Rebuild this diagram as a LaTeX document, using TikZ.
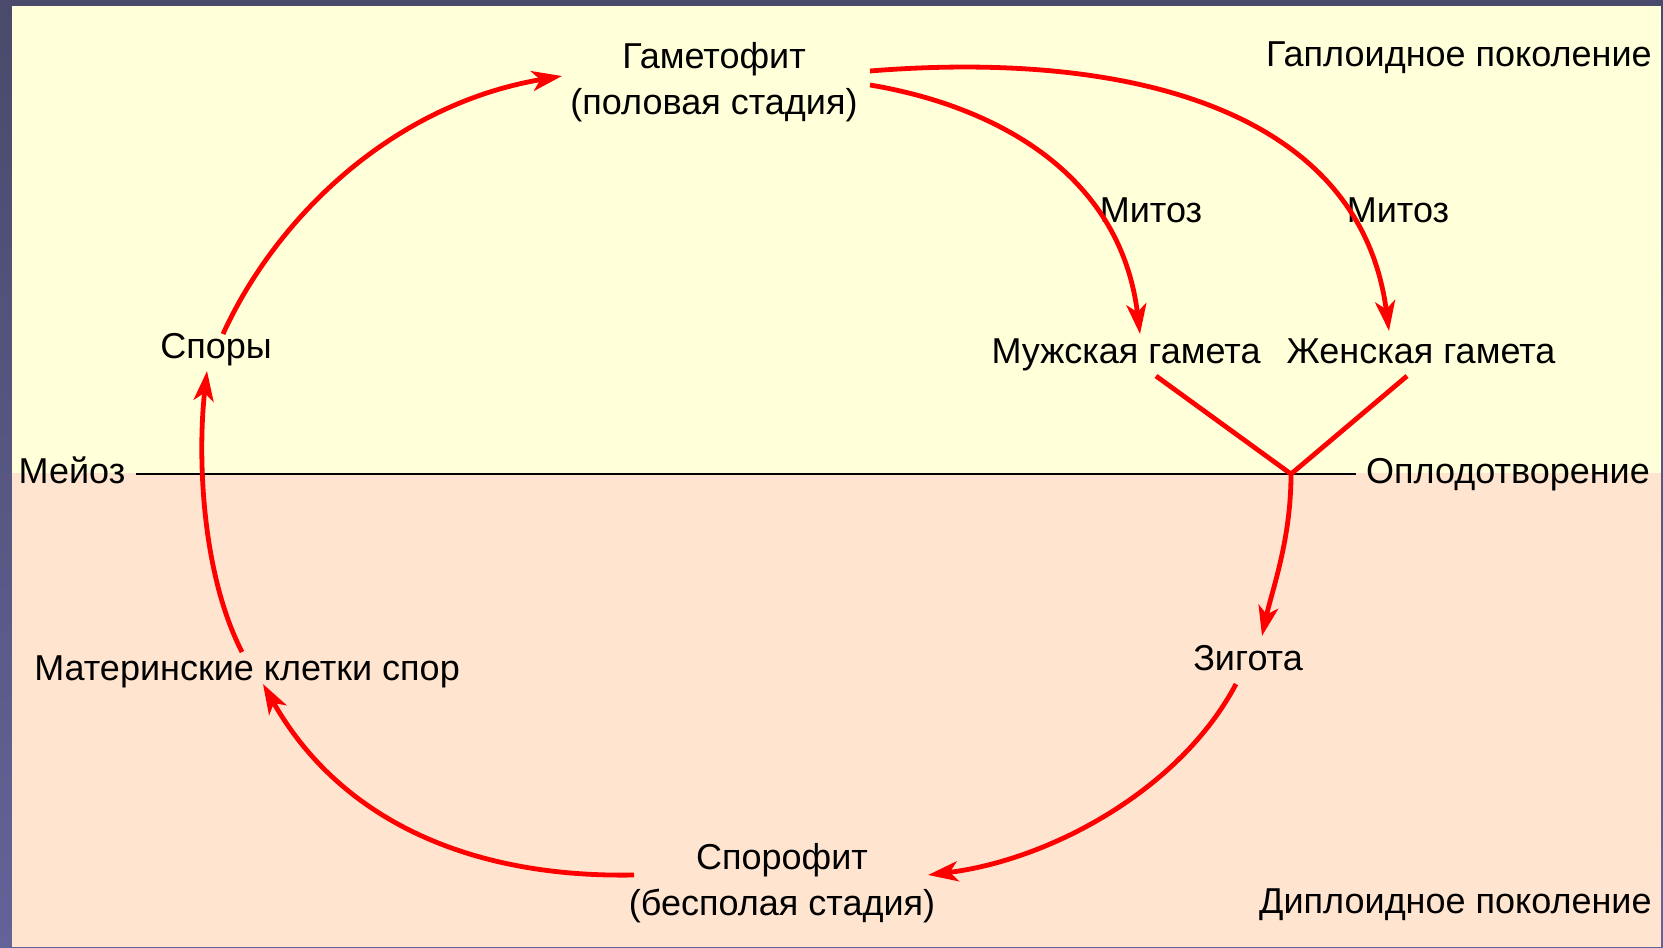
\documentclass[tikz,border=0pt]{standalone}
\usepackage{fontspec}
\setmainfont{Liberation Sans}
\usetikzlibrary{arrows.meta,calc}

\definecolor{haplo}{HTML}{FFFFD9}
\definecolor{diplo}{HTML}{FFE5D0}
\definecolor{frameA}{HTML}{4A4A6C}
\definecolor{frameB}{HTML}{636398}

\begin{document}
\begin{tikzpicture}[
    x=0.5pt, y=-0.5pt,
    lbl/.style={inner sep=0pt, font=\fontsize{18}{23}\selectfont, text height=13pt, text depth=4pt},
    stage/.style={inner sep=0pt, align=center, font=\fontsize{18}{23}\selectfont},
    arrow/.style={-{Stealth[length=15pt, width=10pt, inset=4pt]}, red, line width=2.4pt},
    merge/.style={red, line width=2.4pt}
]
    \useasboundingbox (0,0) rectangle (1663,947);

    % --- фон слайда ---
    \shade[top color=frameA, bottom color=frameB] (0,0) rectangle (1663,947);
    \fill[haplo] (12,6) rectangle (1661,473);
    \fill[diplo] (12,473) rectangle (1661,947);

    % --- стадии ---
    \node[stage] (gam) at (714,82) {Гаметофит\\(половая стадия)};
    \node[stage] (sporofit) at (782,883) {Спорофит\\(бесполая стадия)};

    \node[lbl, anchor=east] (haploid) at (1652,58) {Гаплоидное поколение};
    \node[lbl, anchor=east] (diploid) at (1652,904) {Диплоидное поколение};

    \node[lbl] (mitoz1) at (1151,213) {Митоз};
    \node[lbl] (mitoz2) at (1398,213) {Митоз};
    \node[lbl] (male) at (1126,354) {Мужская гамета};
    \node[lbl] (female) at (1421,354) {Женская гамета};
    \node[lbl] (spory) at (216,349) {Споры};
    \node[lbl] (zigota) at (1248,661) {Зигота};
    \node[lbl] (mat) at (247,671) {Материнские клетки спор};

    % --- граница поколений ---
    \node[lbl, inner xsep=5pt] (meioz) at (72,474) {Мейоз};
    \node[lbl, inner xsep=5pt] (oplod) at (1508,474) {Оплодотворение};
    \draw[line width=1.4pt] (meioz.east) -- (oplod.west);
    \coordinate (fert) at (1291,474);

    % --- гаплоидная часть цикла ---
    \draw[arrow] ($(spory)+(7,-15)$) .. controls (275,220) and (390,105) .. ($(gam)+(-152,-6)$);
    \draw[arrow] ($(gam)+(156,3)$) .. controls (990,105) and (1120,170) .. ($(male)+(14,-20)$);
    \draw[arrow] ($(gam)+(156,-11)$) .. controls (1130,50) and (1360,110) .. ($(female)+(-32,-23)$);
    \draw[merge] ($(male)+(30,22)$) -- (fert) -- ($(female)+(-14,22)$);

    % --- диплоидная часть цикла ---
    \draw[arrow] (fert) .. controls (1291,540) and (1272,590) .. ($(zigota)+(14,-25)$);
    \draw[arrow] ($(zigota)+(-12,23)$) .. controls (1180,790) and (1050,860) .. ($(sporofit)+(146,-8)$);
    \draw[arrow] ($(sporofit)+(-148,-8)$) .. controls (470,878) and (340,820) .. ($(mat)+(16,13)$);
    \draw[arrow] ($(mat)+(-5,-19)$) .. controls (200,570) and (198,450) .. ($(spory)+(-9,22)$);
\end{tikzpicture}
\end{document}
